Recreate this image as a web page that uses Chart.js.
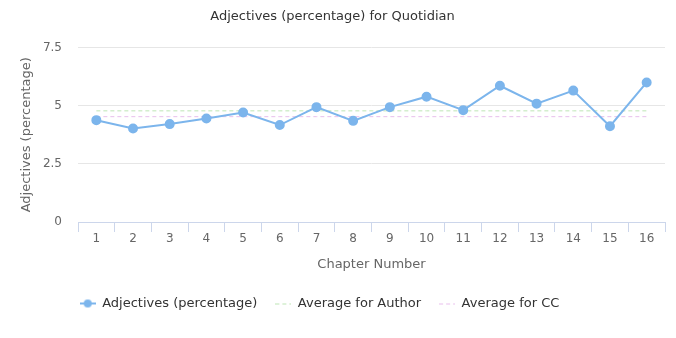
<!DOCTYPE html>
<html>
<head>
<meta charset="utf-8">
<script src="https://cdn.jsdelivr.net/npm/chart.js@4"></script>
<style>
  html, body { margin: 0; padding: 0; background: #fff; }
  #wrap { width: 676px; height: 338px; }
</style>
</head>
<body>
<div id="wrap"><canvas id="chart" width="676" height="338"></canvas></div>
<script>
// Chapters and values
const chapters = ['1', '2', '3', '4', '5', '6', '7', '8', '9', '10', '11', '12', '13', '14', '15', '16'];
const adjectives = [4.38, 4.02, 4.21, 4.45, 4.71, 4.17, 4.94, 4.35, 4.94, 5.39, 4.81, 5.86, 5.09, 5.65, 4.12, 6.00];
const authorAverage = [4.78, 4.78, 4.78, 4.78, 4.78, 4.78, 4.78, 4.78, 4.78, 4.78, 4.78, 4.78, 4.78, 4.78, 4.78, 4.78];
const ccAverage = [4.53, 4.53, 4.53, 4.53, 4.53, 4.53, 4.53, 4.53, 4.53, 4.53, 4.53, 4.53, 4.53, 4.53, 4.53, 4.53];
const yTicks = [0, 2.5, 5, 7.5];

const blue = '#7cb5ec';
const green = '#bde5b5';
const pink = '#e8bfed';
const fontFamily = '"DejaVu Sans", sans-serif';

// Small canvas used as legend symbol
function legendSymbol(color, dashed, marker) {
    const c = document.createElement('canvas');
    c.width = 16;
    c.height = 12;
    const g = c.getContext('2d');
    g.strokeStyle = color;
    g.lineWidth = dashed ? 1 : 2;
    if (dashed) g.setLineDash([4, 3]);
    g.beginPath();
    g.moveTo(0, dashed ? 6.5 : 6);
    g.lineTo(16, dashed ? 6.5 : 6);
    g.stroke();
    if (marker) {
        g.fillStyle = color;
        g.beginPath();
        g.arc(8, 6, 4, 0, Math.PI * 2);
        g.fill();
    }
    return c;
}

const symbols = [
    legendSymbol(blue, false, true),
    legendSymbol(green, true, false),
    legendSymbol(pink, true, false)
];

// Shift legend a bit to the left, like in the original
const legendShift = {
    id: 'legendShift',
    afterLayout(chart) {
        chart.legend.left -= 13;
        chart.legend.right -= 13;
    }
};

const ctx = document.getElementById('chart').getContext('2d');
const chart = new Chart(ctx, {
    type: 'line',
    data: {
        labels: chapters,
        datasets: [{
            label: 'Adjectives (percentage)',
            data: adjectives,
            borderColor: blue,
            backgroundColor: blue,
            borderWidth: 2,
            pointRadius: 4,
            pointHoverRadius: 4,
            tension: 0
        }, {
            label: 'Average for Author',
            data: authorAverage,
            borderColor: green,
            borderWidth: 1,
            borderDash: [4, 3],
            pointRadius: 0
        }, {
            label: 'Average for CC',
            data: ccAverage,
            borderColor: pink,
            borderWidth: 1,
            borderDash: [4, 3],
            pointRadius: 0
        }]
    },
    plugins: [legendShift],
    options: {
        responsive: false,
        animation: false,
        layout: { padding: { left: 0, right: 11, top: 0, bottom: 18 } },
        scales: {
            x: {
                offset: true,
                grid: {
                    offset: true,
                    drawOnChartArea: false,
                    drawTicks: true,
                    tickLength: 10,
                    color: '#ccd6eb'
                },
                border: { color: '#ccd6eb' },
                ticks: {
                    color: '#666666',
                    font: { family: fontFamily, size: 12 },
                    padding: 0,
                    maxRotation: 0
                },
                title: {
                    display: true,
                    text: 'Chapter Number',
                    color: '#666666',
                    font: { family: fontFamily, size: 13 },
                    padding: { top: 10, bottom: 7 }
                }
            },
            y: {
                min: 0,
                max: 7.5,
                afterBuildTicks: (scale) => {
                    scale.ticks = yTicks.map((v) => ({ value: v }));
                },
                afterFit: (scale) => { scale.width = 78; },
                grid: {
                    color: '#e6e6e6',
                    drawTicks: false
                },
                border: { display: false },
                ticks: {
                    color: '#666666',
                    font: { family: fontFamily, size: 12 },
                    padding: 16
                },
                title: {
                    display: true,
                    text: 'Adjectives (percentage)',
                    color: '#666666',
                    font: { family: fontFamily, size: 13 },
                    padding: { top: 19, bottom: 0 }
                }
            }
        },
        plugins: {
            title: {
                display: true,
                text: 'Adjectives (percentage) for Quotidian',
                color: '#333333',
                font: { family: fontFamily, size: 13, weight: 'normal' },
                padding: { top: 9, bottom: 23 }
            },
            legend: {
                position: 'bottom',
                labels: {
                    usePointStyle: true,
                    pointStyleWidth: 16,
                    color: '#333333',
                    font: { family: fontFamily, size: 13 },
                    padding: 18,
                    generateLabels: (chart) => chart.data.datasets.map((ds, i) => ({
                        text: ds.label,
                        pointStyle: symbols[i],
                        fontColor: '#333333',
                        lineWidth: 0,
                        strokeStyle: 'transparent',
                        fillStyle: 'transparent',
                        datasetIndex: i
                    }))
                }
            },
            tooltip: { enabled: false }
        }
    }
});
</script>
</body>
</html>
